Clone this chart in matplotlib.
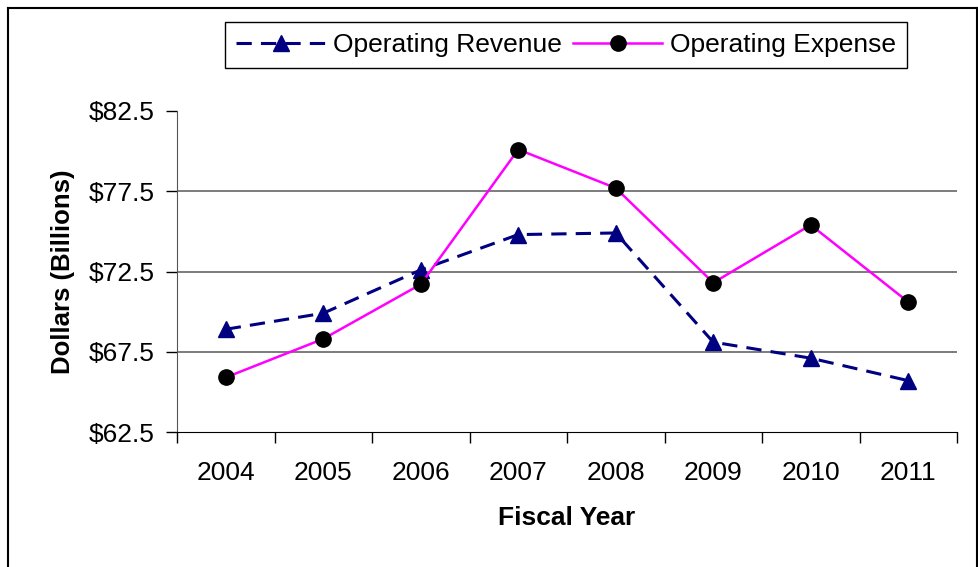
import matplotlib
matplotlib.use("Agg")
import matplotlib.pyplot as plt
from matplotlib.lines import Line2D
import numpy as np

plt.rcParams['font.family'] = ['Liberation Sans', 'DejaVu Sans']

years = ['2004', '2005', '2006', '2007', '2008', '2009', '2010', '2011']
revenue = [68.9, 69.9, 72.6, 74.8, 74.9, 68.1, 67.1, 65.7]
expense = [65.9, 68.3, 71.7, 80.1, 77.7, 71.8, 75.4, 70.6]
yticks = [62.5, 67.5, 72.5, 77.5, 82.5]
ytick_labels = ['$62.5', '$67.5', '$72.5', '$77.5', '$82.5']

fig = plt.figure(figsize=(9.79, 5.67), dpi=100)
ax = fig.add_axes([177/979, 1-432/567, (957-177)/979, (432-111)/567])

x = np.arange(len(years))
ax.plot(x, revenue, color='#000080', linestyle=(0, (5, 3)), linewidth=2.2,
        marker='^', markersize=11, markerfacecolor='#000080', markeredgecolor='#000080',
        label='Operating Revenue', zorder=3)
ax.plot(x, expense, color='#FF00FF', linestyle='-', linewidth=1.8,
        marker='o', markersize=11, markerfacecolor='black', markeredgecolor='black',
        label='Operating Expense', zorder=4)

ax.set_xlim(-0.5, len(years) - 0.5)
ax.set_ylim(62.5, 82.5)
ax.set_yticks(yticks)
ax.set_yticklabels(ytick_labels)
ax.set_xticks(x)
ax.set_xticklabels(years)
ax.set_xticks(np.arange(len(years) + 1) - 0.5, minor=True)
ax.tick_params(axis='x', which='major', length=0, pad=21, labelsize=19)
ax.tick_params(axis='x', which='minor', length=8, width=1, direction='out', color='black')
ax.tick_params(axis='y', which='major', length=8, width=1, direction='out', pad=8,
               labelsize=19, color='black')

for v in yticks[1:-1]:
    ax.axhline(v, color='#666666', linewidth=1.2, zorder=1)

ax.spines['top'].set_visible(False)
ax.spines['right'].set_visible(False)
ax.spines['left'].set_color('#555555')
ax.spines['bottom'].set_color('black')

ax.set_xlabel('Fiscal Year', fontsize=19, fontweight='bold', labelpad=15)
ax.set_ylabel('Dollars (Billions)', fontsize=18.5, fontweight='bold', labelpad=10)

leg = fig.legend(loc='center', bbox_to_anchor=(566/979, 1-45/567), ncol=2,
                 fontsize=19, frameon=True, fancybox=False, edgecolor='black',
                 framealpha=1, handlelength=3.4, handletextpad=0.3, columnspacing=0.4,
                 borderpad=0.4, borderaxespad=0)
leg.get_frame().set_linewidth(1.0)

# outer frame
fig.add_artist(Line2D([8/979, 8/979], [0, 1-8/567], transform=fig.transFigure,
                      color='black', linewidth=1.5))
fig.add_artist(Line2D([8/979, 977/979], [1-8/567, 1-8/567], transform=fig.transFigure,
                      color='black', linewidth=1.5))
fig.add_artist(Line2D([977/979, 977/979], [0, 1-8/567], transform=fig.transFigure,
                      color='black', linewidth=1.5))

fig.savefig('out.png', dpi=100)
